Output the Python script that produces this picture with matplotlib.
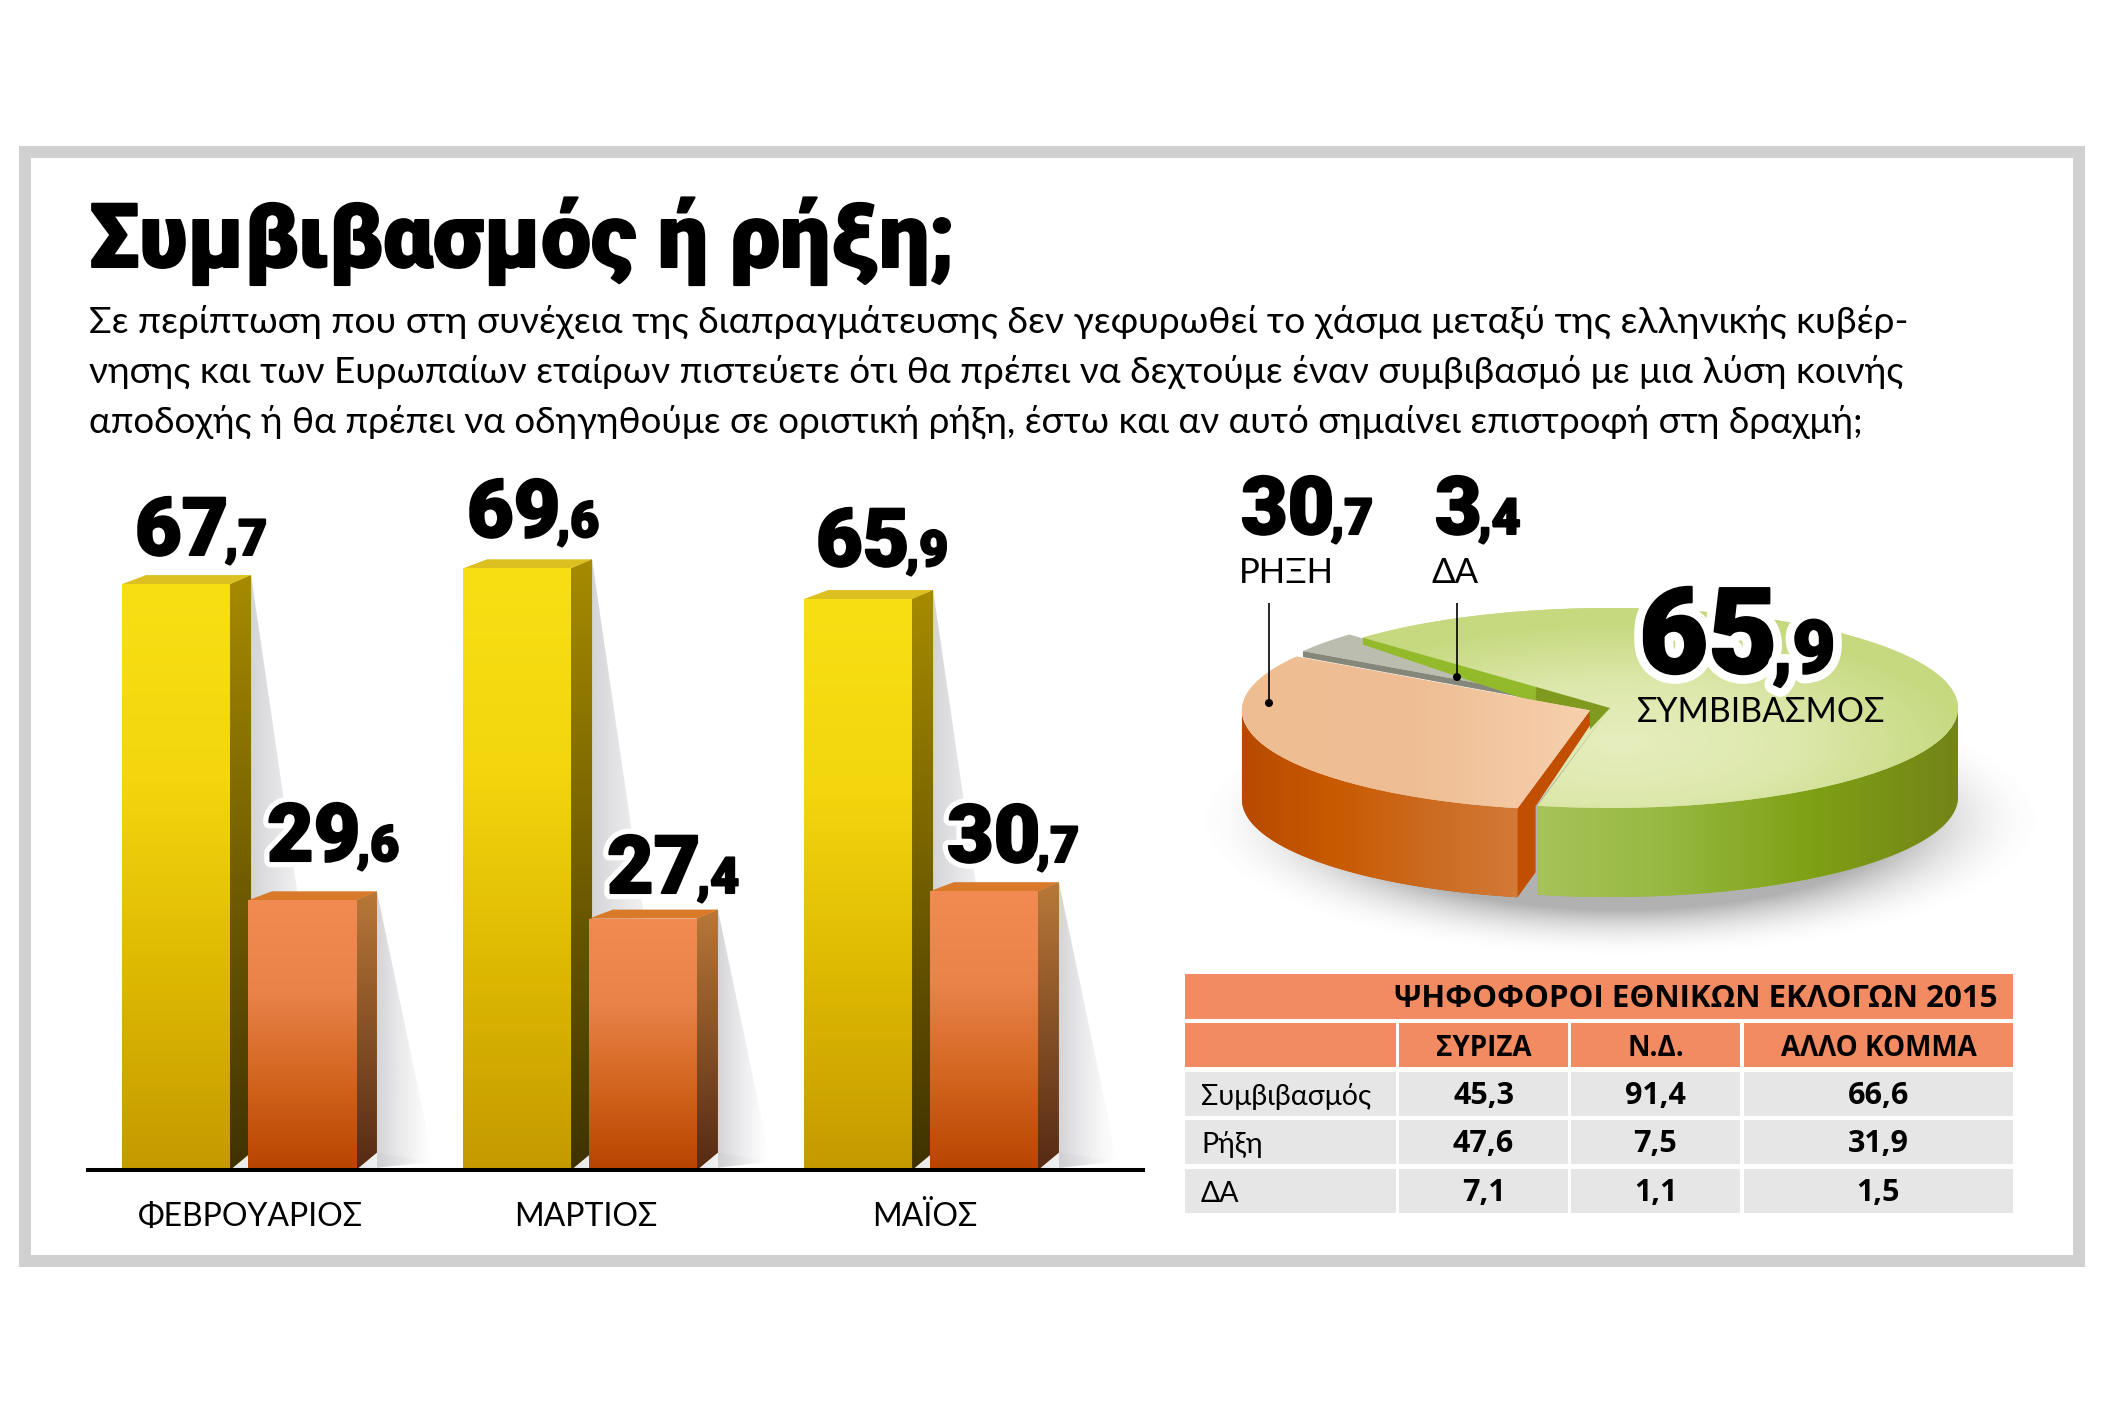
import numpy as np
import matplotlib
matplotlib.use('Agg')
import matplotlib.pyplot as plt
import matplotlib.patheffects as pe
from matplotlib.colors import LinearSegmentedColormap, to_rgb
from matplotlib.patches import Polygon, Rectangle, Circle

W, H = 2112, 1408

months = ['ΦΕΒΡΟΥΑΡΙΟΣ', 'ΜΑΡΤΙΟΣ', 'ΜΑΪΟΣ']
compromise = [67.7, 69.6, 65.9]
rupture = [29.6, 27.4, 30.7]

pie_values = [65.9, 3.4, 30.7]
pie_names = ['ΣΥΜΒΙΒΑΣΜΟΣ', 'ΔΑ', 'ΡΗΞΗ']

table_title = 'ΨΗΦΟΦΟΡΟΙ ΕΘΝΙΚΩΝ ΕΚΛΟΓΩΝ 2015'
table_cols = ['ΣΥΡΙΖΑ', 'Ν.Δ.', 'ΑΛΛΟ ΚΟΜΜΑ']
table_rows = ['Συμβιβασμός', 'Ρήξη', 'ΔΑ']
table_syriza = [45.3, 47.6, 7.1]
table_nd = [91.4, 7.5, 1.1]
table_other = [66.6, 31.9, 1.5]

title = 'Συμβιβασμός ή ρήξη;'
intro = ['Σε περίπτωση που στη συνέχεια της διαπραγμάτευσης δεν γεφυρωθεί το χάσμα μεταξύ της ελληνικής κυβέρ-',
         'νησης και των Ευρωπαίων εταίρων πιστεύετε ότι θα πρέπει να δεχτούμε έναν συμβιβασμό με μια λύση κοινής',
         'αποδοχής ή θα πρέπει να οδηγηθούμε σε οριστική ρήξη, έστω και αν αυτό σημαίνει επιστροφή στη δραχμή;']

HEAVY = ['Roboto', 'DejaVu Sans']
LIGHT = ['Lato', 'Noto Sans', 'DejaVu Sans']
TABLE_BOLD = ['Open Sans', 'DejaVu Sans']

fig = plt.figure(figsize=(W / 100, H / 100), dpi=100, facecolor='white')


def px_axes(x0, y0, x1, y1, **kw):
    # axes placed with top-left style pixel coordinates
    return fig.add_axes([x0 / W, 1 - y1 / H, (x1 - x0) / W, (y1 - y0) / H], **kw)


def ramp(colors):
    return LinearSegmentedColormap.from_list('ramp', colors, N=256)


def fill_gradient(ax, patch, colors, extent, vertical=True, zorder=2):
    data = np.linspace(0, 1, 256)
    data = data.reshape(-1, 1) if vertical else data.reshape(1, -1)
    im = ax.imshow(data, cmap=ramp(colors), extent=extent, aspect='auto',
                   origin='upper', interpolation='bilinear', zorder=zorder)
    im.set_clip_path(patch)
    return im


def fill_fade(ax, patch, color, alpha, extent, zorder=1):
    # horizontal fade from a translucent grey to nothing
    rgba = np.zeros((1, 128, 4))
    rgba[..., :3] = to_rgb(color)
    rgba[..., 3] = np.linspace(alpha, 0, 128) ** 1.3
    im = ax.imshow(rgba, extent=extent, aspect='auto', origin='upper',
                   interpolation='bilinear', zorder=zorder)
    im.set_clip_path(patch)


# ---- bars
BAR_PX = 341.0
VAL_PX = 8.3
BASE_PX = 1170
ax = px_axes(88, 440, 1143, BASE_PX, facecolor='none')
ax.set_autoscale_on(False)
y0 = -24 / VAL_PX
ax.set_xlim((88 - 239.5) / BAR_PX, (1143 - 239.5) / BAR_PX)
ax.set_ylim(y0, y0 + (BASE_PX - 440) / VAL_PX)

bar_w = 108 / BAR_PX
dx = 21 / BAR_PX
dx_left = 24 / BAR_PX
dy_top = 9 / VAL_PX
dy_floor = 17.5 / VAL_PX

YELLOW = dict(front=['#F8DF14', '#F3D60E', '#DDB802', '#C49A00'],
              side=['#A68B00', '#3F3200'], top='#DCBF20', offset=-0.186, slope=0.146)
ORANGE = dict(front=['#F28B52', '#E9834A', '#D2651F', '#B84400'],
              side=['#B87838', '#552A14'], top='#D87A2A', offset=0.183, slope=0.21)


def draw_bar(i, value, style, z):
    xl = i + style['offset'] - bar_w / 2
    xr = xl + bar_w
    # soft shadow thrown to the right of the block
    height_px = (value - y0) * VAL_PX
    reach = style['slope'] * height_px / BAR_PX
    shadow = Polygon([(xr + dx, value + dy_top), (xr + dx + reach, y0 + 1.0), (xr, y0)],
                     fc='none', ec='none', zorder=z)
    ax.add_patch(shadow)
    fill_fade(ax, shadow, '#B0B0B6', 0.62,
              (xr + dx, xr + dx + reach, y0, value + dy_top), zorder=z)
    floor = Polygon([(xr, y0), (xr + dx, y0 + dy_floor), (xr + dx + reach, y0 + 1.0)],
                    fc='none', ec='none', zorder=z)
    ax.add_patch(floor)
    fill_fade(ax, floor, '#C0C0C4', 0.45, (xr, xr + dx + reach, y0, y0 + dy_floor), zorder=z)

    side = Polygon([(xr, value), (xr + dx, value + dy_top),
                    (xr + dx, y0 + dy_floor), (xr, y0)], fc=style['side'][0], ec='none', zorder=z + 1)
    ax.add_patch(side)
    fill_gradient(ax, side, style['side'], (xr, xr + dx, y0, value + dy_top), zorder=z + 1)
    ax.add_patch(Polygon([(xl, value), (xl + dx_left, value + dy_top),
                          (xr + dx, value + dy_top), (xr, value)],
                         fc=style['top'], ec='none', zorder=z + 1))
    front = ax.bar(i + style['offset'], value - y0, bar_w, bottom=y0,
                   color=style['front'][0], zorder=z + 2)[0]
    fill_gradient(ax, front, style['front'], (xl, xr, y0, value), zorder=z + 2)


for i in range(len(months)):
    draw_bar(i, compromise[i], YELLOW, 3 + i * 10)
    draw_bar(i, rupture[i], ORANGE, 6 + i * 10)

for s in ['top', 'left', 'right']:
    ax.spines[s].set_visible(False)
ax.spines['bottom'].set_linewidth(2.9)
ax.spines['bottom'].set_zorder(50)
ax.set_yticks([])
ax.set_xticks([0.032, 1.015, 2.01])
ax.set_xticklabels(months, family=LIGHT, fontsize=23)
ax.tick_params(axis='x', length=0, pad=23)

# ---- pie, unit circle squashed by the axes shape
CX, CY, RX, RY = 1610, 708, 348, 100
px0, px1, py0, py1 = 1190, 2060, 560, 970
ap = px_axes(px0, py0, px1, py1, facecolor='none')
start = -102
wedges, _ = ap.pie(pie_values, startangle=start, explode=[0, 0.05, 0.0625], radius=1,
                   colors=['#C6D97F', '#BBBDAE', '#EFBD92'], wedgeprops=dict(linewidth=0))
ap.set_aspect('auto')
ap.set_autoscale_on(False)
ap.set_xlim((px0 - CX) / RX, (px1 - CX) / RX)
ap.set_ylim((CY - py1) / RY, (CY - py0) / RY)
ap.axis('off')

shares = np.array(pie_values) / sum(pie_values) * 360
green_end = start + shares[0]
grey_end = green_end + shares[1]
orange_end = grey_end + shares[2]
DEPTH = 0.89


def unit(deg):
    return np.array([np.cos(np.radians(deg)), np.sin(np.radians(deg))])


def wall(a0, a1, center):
    # outer rim of a slice between two angles
    t = np.radians(np.linspace(a0, a1, 80))
    top = np.column_stack([np.cos(t), np.sin(t)]) + center
    low = top[::-1] - [0, DEPTH]
    return np.vstack([top, low])


# blurred ground shadow
sx, sy = np.meshgrid(np.linspace((px0 - CX) / RX, (px1 - CX) / RX, 300),
                     np.linspace((CY - py0) / RY, (CY - py1) / RY, 300))
d = np.sqrt(((sx - 0.03) / 1.03) ** 2 + ((sy + 1.12) / 1.16) ** 2)
shade = np.zeros(sx.shape + (4,))
shade[..., :3] = 0.45
shade[..., 3] = 0.55 * np.clip((1.2 - d) / 0.42, 0, 1) ** 2
ap.imshow(shade, extent=(sx.min(), sx.max(), sy.min(), sy.max()), aspect='auto',
          interpolation='bilinear', zorder=0)

orange_c = 0.0625 * unit(green_end + shares[1] + shares[2] / 2)
grey_c = 0.05 * unit(green_end + shares[1] / 2)

green_side = Polygon(wall(start, 0, (0, 0)), fc='#96B840', ec='none', zorder=1)
ap.add_patch(green_side)
fill_gradient(ap, green_side, ['#A9C45C', '#96B840', '#7EA014', '#748418'],
              (-0.25, 1.0, -2, 0), vertical=False, zorder=1)

wedges[0].set_zorder(2)
gx, gy = np.meshgrid(np.linspace(-1.05, 1.05, 200), np.linspace(1.05, -1.05, 200))
glow = np.clip(np.sqrt(((gx - 0.03) / 1.0) ** 2 + ((gy + 0.35) / 1.2) ** 2), 0, 1)
im = ap.imshow(glow, cmap=ramp(['#E6EEBE', '#DDE8AC', '#C6D97F']), vmin=0, vmax=1,
               extent=(-1.05, 1.05, -1.05, 1.05), aspect='auto', zorder=3,
               interpolation='bilinear')
im.set_clip_path(wedges[0])

wedges[1].set_zorder(4)
g_end = grey_c + unit(grey_end)
g_in = grey_c + unit(grey_end) * 0.2
ap.add_patch(Polygon([g_end, g_in, g_in + [0, -0.06], g_end + [0, -0.06]],
                     fc='#85877A', ec='none', zorder=5))

# cut faces of the green slice, over the grey one
edge = unit(green_end)
ap.add_patch(Polygon([edge, edge * 0.3, edge * 0.3 + [0, -0.16], edge + [0, -0.07]],
                     fc='#93BA2A', ec='none', zorder=6))

corner = orange_c + unit(orange_end)
inner_tip = corner + [18 / RX, 0.02]
ap.add_patch(Polygon([(0, 0), inner_tip, orange_c + [0, -0.15]], fc='#DFE9B0', ec='none', zorder=6))
ap.add_patch(Polygon([edge * 0.3, (0, 0), orange_c + [0, -0.19], orange_c, edge * 0.3 + [0, -0.14]],
                     fc='#7F9A1E', ec='none', zorder=7))

orange_side = Polygon(wall(180, orange_end, orange_c), fc='#C85A00', ec='none', zorder=8)
ap.add_patch(orange_side)
fill_gradient(ap, orange_side, ['#B84A00', '#C85A00', '#CC6A20', '#D27A36'],
              (orange_c[0] - 1, orange_c[0] + unit(orange_end)[0], -2, 0),
              vertical=False, zorder=8)
ap.add_patch(Polygon([orange_c, orange_c + [0, -0.15], inner_tip,
                      corner + [18 / RX, -0.64], corner + [0, -DEPTH], corner],
                     fc='#C24E00', ec='none', zorder=9))
wedges[2].set_zorder(10)
im = ap.imshow(np.linspace(0, 1, 128).reshape(1, -1), cmap=ramp(['#EFBD92', '#EFBE94', '#F7D2B0']),
               extent=(-1.1, 0, -1.1, 1.1), aspect='auto', zorder=11, interpolation='bilinear')
im.set_clip_path(wedges[2])

# ---- everything in plain pixels on top
top = fig.add_axes([0, 0, 1, 1], facecolor='none', zorder=5)
top.set_xlim(0, W)
top.set_ylim(H, 0)
top.axis('off')
top.add_patch(Rectangle((25, 152), 2054, 1109, fc='none', ec='#D0D0D0', lw=8.6))


def fit(t, width):
    w = t.get_window_extent(fig.canvas.get_renderer()).width
    t.set_fontsize(t.get_fontsize() * width / w)


def value_label(x, y, value, size, halo=0):
    whole, dec = f'{value:.1f}'.split('.')
    effects = [pe.withStroke(linewidth=1.5, foreground='black')]
    if halo:
        effects = [pe.withStroke(linewidth=halo, foreground='white')] + effects
    big = top.text(x, y, whole, family=HEAVY, weight=900, fontsize=size, color='black',
                   va='baseline', path_effects=effects, zorder=60)
    right = big.get_window_extent(fig.canvas.get_renderer()).x1
    top.text(right - size * 0.06, y, ',' + dec, family=HEAVY, weight=900, fontsize=size * 0.62,
             color='black', va='baseline', path_effects=effects, zorder=60)


fit(top.text(89, 267, title, family=HEAVY, weight=900, fontsize=60, va='baseline',
             path_effects=[pe.withStroke(linewidth=1.5, foreground='black')]), 866)
for line, base, width in zip(intro, [333, 383, 433], [1816, 1814, 1775]):
    fit(top.text(89, base, line, family=LIGHT, fontsize=28, va='baseline'), width)

for v, (x, y) in zip(compromise, [(135, 555), (467, 537), (816, 566)]):
    value_label(x, y, v, 58)
for v, (x, y) in zip(rupture, [(267, 861), (607, 893), (947, 862)]):
    value_label(x, y, v, 58, halo=9)

value_label(1241, 534, pie_values[2], 58)
value_label(1435, 534, pie_values[1], 58)
value_label(1639, 673, pie_values[0], 86, halo=14)

fit(top.text(1637, 722, pie_names[0], family=LIGHT, fontsize=25, va='baseline'), 248)
top.text(1239, 583, pie_names[2], family=LIGHT, fontsize=25, va='baseline')
top.text(1432, 583, pie_names[1], family=LIGHT, fontsize=25, va='baseline')

for x, y0_l, y1_l in [(1269, 603, 703), (1457, 603, 677)]:
    top.plot([x, x], [y0_l, y1_l], color='black', lw=1.2, solid_capstyle='butt')
    top.add_patch(Circle((x, y1_l), 4, fc='black', ec='none'))

# ---- table
SALMON = '#F28A62'
GREY = '#E6E6E6'
col_edges = [(1185, 1396), (1399, 1568), (1571, 1740), (1744, 2013)]
row_edges = [(1072, 1116), (1120, 1164), (1169, 1213)]
top.add_patch(Rectangle((1185, 974), 828, 45, fc=SALMON, ec='none'))
fit(top.text(1997, 1007, table_title, family=TABLE_BOLD, weight='bold', fontsize=21,
             ha='right', va='baseline'), 602)
for j, (x0, x1) in enumerate(col_edges):
    top.add_patch(Rectangle((x0, 1023), x1 - x0, 44, fc=SALMON, ec='none'))
    if j:
        top.text((x0 + x1) / 2, 1056, table_cols[j - 1], family=TABLE_BOLD, weight='bold',
                 fontsize=20, ha='center', va='baseline')

columns = [table_syriza, table_nd, table_other]
for r, (y0_r, y1_r) in enumerate(row_edges):
    for j, (x0, x1) in enumerate(col_edges):
        top.add_patch(Rectangle((x0, y0_r), x1 - x0, y1_r - y0_r, fc=GREY, ec='none'))
        if j == 0:
            top.text(1201, y1_r - 11, table_rows[r], family=LIGHT, fontsize=20.5, va='baseline')
        else:
            text = f'{columns[j - 1][r]:.1f}'.replace('.', ',')
            top.text((x0 + x1) / 2, y1_r - 12, text, family=TABLE_BOLD, weight='bold',
                     fontsize=22, ha='center', va='baseline')

fig.savefig('out.png', dpi=100)
